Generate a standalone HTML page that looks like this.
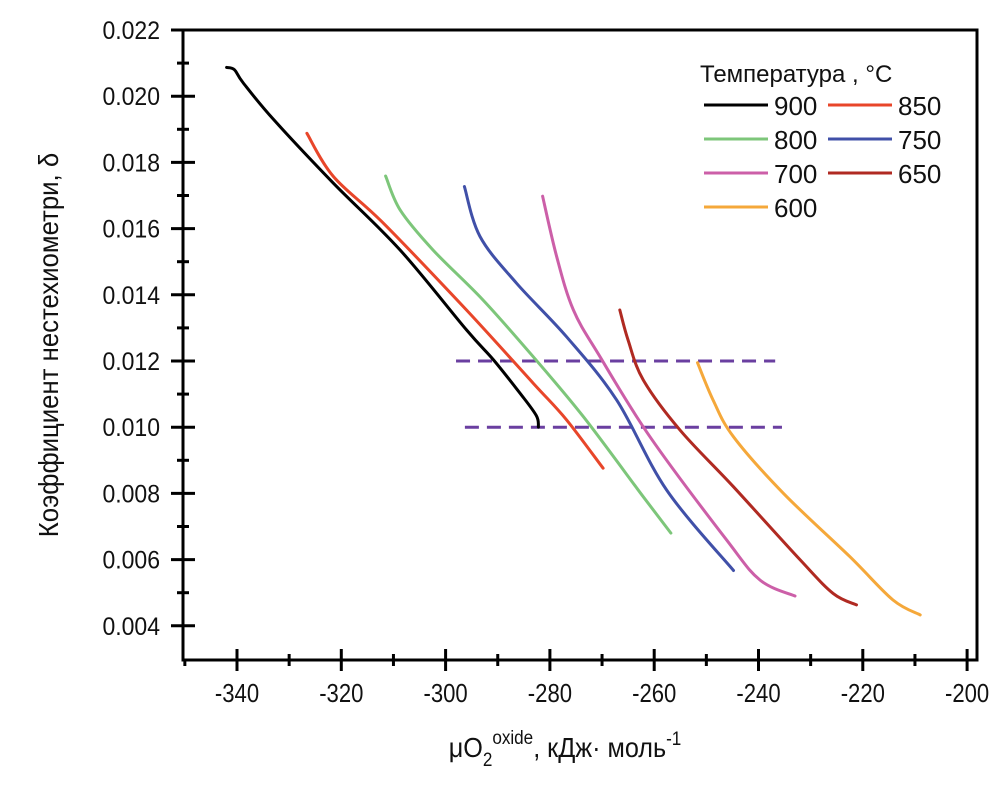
<!DOCTYPE html>
<html><head><meta charset="utf-8"><style>
body{margin:0;background:#fff}
svg text{font-family:"Liberation Sans",sans-serif;fill:#111}
</style></head><body>
<svg id="chart" width="989" height="784" viewBox="0 0 989 784"></svg>
<script>
const xTicks=[-340,-320,-300,-280,-260,-240,-220,-200];
const yTicks=[0.004,0.006,0.008,0.010,0.012,0.014,0.016,0.018,0.020,0.022];
const temps=["900","850","800","750","700","650","600"];
const colors=["#000000","#e8462a","#7dc67a","#4050a8","#cc5fa8","#b02a22","#f5a83a"];
const s900x=[-342,-340.5,-338.8,-333,-321.5,-308.7,-296,-290.8,-285.7,-282.6,-282.2];
const s900y=[0.02087,0.02080,0.0204,0.0193,0.01737,0.01535,0.01294,0.01203,0.01102,0.01035,0.0100];
const s850x=[-326.6,-321.5,-311.9,-296,-283.2,-276.8,-269.8];
const s850y=[0.01888,0.01757,0.01616,0.01354,0.01133,0.01022,0.00876];
const s800x=[-311.5,-308.7,-302.4,-292.8,-283.2,-273.6,-262.1,-256.8];
const s800y=[0.01759,0.01656,0.01535,0.01384,0.01213,0.01032,0.0079,0.0068];
const s750x=[-296.4,-293.4,-286.4,-276.8,-267.2,-257.6,-244.8];
const s750y=[0.01727,0.01576,0.01435,0.01273,0.01082,0.0081,0.00567];
const s700x=[-281.4,-278.7,-275.5,-270.4,-260.8,-246.1,-239.7,-233];
const s700y=[0.01698,0.01515,0.01354,0.01213,0.00971,0.00659,0.00538,0.0049];
const s650x=[-266.6,-265,-262.1,-255.1,-244.8,-232,-225.7,-221.2];
const s650y=[0.01354,0.01263,0.01143,0.00992,0.0082,0.00599,0.00498,0.00463];
const s600x=[-251.7,-248.7,-244.8,-235.2,-222.5,-214.2,-209];
const s600y=[0.01195,0.01082,0.00971,0.0080,0.00609,0.00478,0.00433];
const dashY=[0.012,0.010];
const dashX0=[-298,-296.3];
const dashX1=[-236.8,-235.5];
const xs=[s900x,s850x,s800x,s750x,s700x,s650x,s600x];
const ys=[s900y,s850y,s800y,s750y,s700y,s650y,s600y];

const X=v=>237+(v+340)*104.3/20;
const Y=v=>30+(0.022-v)/0.002*66.2;
const svg=document.getElementById('chart');
const NS='http://www.w3.org/2000/svg';
function mk(t,a,p){const e=document.createElementNS(NS,t);for(const k in a)e.setAttribute(k,a[k]);(p||svg).appendChild(e);return e;}
function smooth(P){
  let d='M'+P[0][0].toFixed(1)+','+P[0][1].toFixed(1);
  for(let i=0;i<P.length-1;i++){
    const p0=P[Math.max(i-1,0)],p1=P[i],p2=P[i+1],p3=P[Math.min(i+2,P.length-1)];
    const c1=[p1[0]+(p2[0]-p0[0])/6,p1[1]+(p2[1]-p0[1])/6];
    const c2=[p2[0]-(p3[0]-p1[0])/6,p2[1]-(p3[1]-p1[1])/6];
    d+=` C${c1[0].toFixed(1)},${c1[1].toFixed(1)} ${c2[0].toFixed(1)},${c2[1].toFixed(1)} ${p2[0].toFixed(1)},${p2[1].toFixed(1)}`;
  }
  return d;
}
const L=183,R=977,T=30,B=660;
let e=mk('rect',{x:L,y:T,width:R-L,height:B-T,fill:'none',stroke:'#000','stroke-width':3});


xTicks.forEach((v,i)=>{
  let t=mk('line',{x1:X(v),x2:X(v),y1:B-11,y2:B+11,stroke:'#000','stroke-width':3});
  
  
  if(i<xTicks.length-1){let m=mk('line',{x1:X(v+10),x2:X(v+10),y1:B-6,y2:B+6,stroke:'#000','stroke-width':3});
  
  }
  let tx=mk('text',{x:0,y:0,'text-anchor':'middle','font-size':26,transform:`translate(${X(v)},${B+42}) scale(0.85,1)`});
  tx.textContent=v;
  
  
});
let mm=mk('line',{x1:X(-350),x2:X(-350),y1:B,y2:B+6,stroke:'#000','stroke-width':3});


yTicks.forEach((v,i)=>{
  let t=mk('line',{x1:L-12,x2:L+12,y1:Y(v),y2:Y(v),stroke:'#000','stroke-width':3});
  
  
  if(i<yTicks.length-1){let m=mk('line',{x1:L-6,x2:L+6,y1:Y(v+0.001),y2:Y(v+0.001),stroke:'#000','stroke-width':3});
  
  }
  let tx=mk('text',{x:0,y:0,'text-anchor':'end','font-size':25,transform:`translate(${L-23},${Y(v)+9}) scale(0.92,1)`});
  tx.textContent=v.toFixed(3);
  
  
});
dashY.forEach((v,i)=>{
  let d=mk('line',{x1:X(dashX0[i]),x2:X(dashX1[i]),y1:Y(v),y2:Y(v),stroke:'#6a3fa0','stroke-width':3,'stroke-dasharray':'14,8'});
  
  
});
xs.forEach((arr,i)=>{
  const P=arr.map((v,j)=>[X(v),Y(ys[i][j])]);
  let p=mk('path',{d:smooth(P),fill:'none',stroke:colors[i],'stroke-width':3,'stroke-linejoin':'round','stroke-linecap':'round'});
  
  
});
let lt=mk('text',{x:700,y:82,'font-size':24});
lt.textContent='Температура ,  °C';


temps.forEach((t,i)=>{
  const col=i%2, row=Math.floor(i/2);
  const lx=704+col*124, ly=105+row*34;
  let l=mk('line',{x1:lx,x2:lx+64,y1:ly,y2:ly,stroke:colors[i],'stroke-width':3});
  
  
  let tx=mk('text',{x:lx+70,y:ly+10,'font-size':26});
  tx.textContent=t;
  
  
});
let xt=mk('text',{x:0,y:0,'text-anchor':'middle','font-size':28,transform:'translate(565,757) scale(0.9,1)'});
xt.innerHTML='μO<tspan dy="9" font-size="19">2</tspan><tspan dy="-22" font-size="19">oxide</tspan><tspan dy="13">, кДж· моль</tspan><tspan dy="-12" font-size="19">-1</tspan>';


let yt=mk('text',{x:0,y:0,'text-anchor':'middle','font-size':28,transform:'translate(58,345) rotate(-90) scale(0.92,1)'});
yt.textContent='Коэффициент нестехиометри, δ';


</script>
</body></html>
